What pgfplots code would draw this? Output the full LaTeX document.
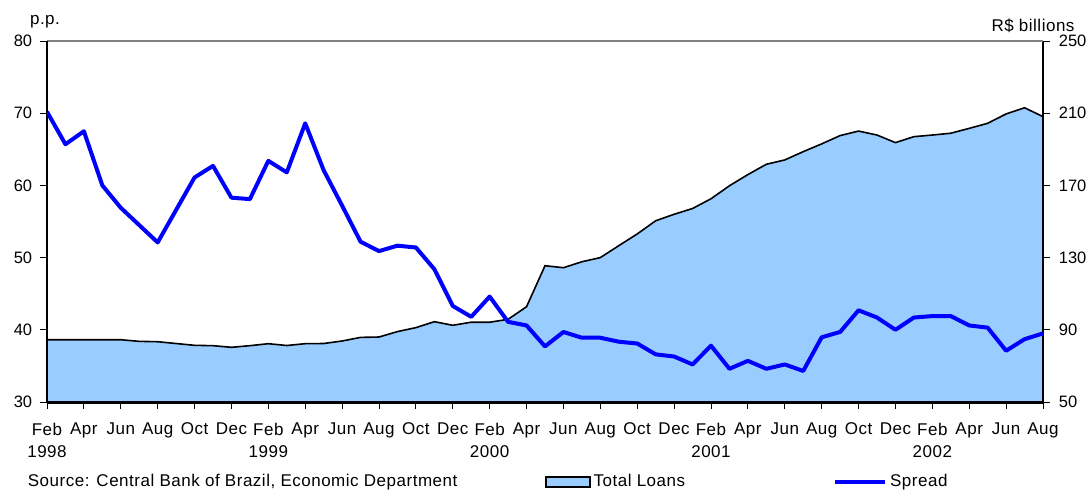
\documentclass[border=0pt]{standalone}
\usepackage{pgfplots}
\pgfplotsset{compat=1.18}
\usepackage{fontspec}
\setmainfont{Liberation Sans}[LetterSpace=3]
\newfontfamily\numfont{Liberation Sans}
\definecolor{loanfill}{HTML}{99CCFF}
\definecolor{spreadblue}{HTML}{0000FF}

\pgfplotstableread{
x y
0 84.5
1 84.5
2 84.5
3 84.5
4 84.5
5 83.6
6 83.4
7 82.4
8 81.4
9 81.2
10 80.3
11 81.2
12 82.3
13 81.3
14 82.3
15 82.4
16 83.8
17 85.8
18 86.0
19 89.0
20 91.2
21 94.5
22 92.5
23 94.2
24 94.2
25 95.8
26 102.8
27 125.5
28 124.4
29 127.7
30 130.0
31 136.6
32 143.1
33 150.4
34 154.0
35 157.2
36 162.6
37 169.8
38 176.0
39 181.7
40 184.1
41 188.7
42 193.0
43 197.6
44 200.1
45 197.9
46 193.7
47 197.0
48 197.9
49 198.9
50 201.6
51 204.4
52 209.6
53 213.0
54 208.1
}\loans

\pgfplotstableread{
x y
0 70.2
1 65.7
2 67.5
3 60.0
4 56.9
5 54.5
6 52.1
7 56.6
8 61.1
9 62.7
10 58.3
11 58.1
12 63.4
13 61.8
14 68.6
15 62.1
16 57.2
17 52.2
18 50.9
19 51.65
20 51.4
21 48.4
22 43.3
23 41.8
24 44.6
25 41.1
26 40.6
27 37.7
28 39.7
29 38.9
30 38.9
31 38.35
32 38.1
33 36.6
34 36.3
35 35.2
36 37.8
37 34.6
38 35.7
39 34.6
40 35.2
41 34.3
42 38.96
43 39.7
44 42.7
45 41.7
46 40.0
47 41.7
48 41.9
49 41.9
50 40.6
51 40.3
52 37.1
53 38.7
54 39.5
}\spread

\begin{document}
\fontsize{17}{20}\selectfont
\begin{tikzpicture}[x=1pt,y=1pt]
\useasboundingbox (0,0) rectangle (1087,490);
\pgfplotsset{common/.style={
  at={(47pt,88pt)}, anchor=south west,
  width=996pt, height=361pt, scale only axis,
  xmin=0, xmax=54,
  tick align=outside, major tick length=7pt,
  /pgf/number format/assume math mode=true,
  yticklabel style={font=\numfont\fontsize{16.5}{20}\selectfont},
  every tick/.style={black, line width=0.9pt},
}}
\begin{axis}[common,
  axis on top,
  axis y line*=right, axis x line*=bottom,
  ymin=50, ymax=250, ytick={50,90,...,250},
  yticklabel style={xshift=3pt},
  xtick={0,2,...,54},
  xticklabels={{Feb\\[2pt]1998},Apr,Jun,Aug,Oct,Dec,{Feb\\[2pt]1999},Apr,Jun,Aug,Oct,Dec,{Feb\\[2pt]2000},Apr,Jun,Aug,Oct,Dec,{Feb\\[2pt]2001},Apr,Jun,Aug,Oct,Dec,{Feb\\[2pt]2002},Apr,Jun,Aug},
  xticklabel style={font=\fontsize{17}{20}\selectfont, align=center, anchor=north, yshift=-8pt},
  x axis line style={line width=3pt},
  y axis line style={line width=1.6pt},
]
\addplot[draw=none, fill=loanfill] table[x=x,y=y] {\loans} \closedcycle;
\addplot[black, line width=1.6pt] table[x=x,y=y] {\loans};
\end{axis}
\begin{axis}[common,
  axis y line*=left, axis x line*=top,
  ymin=30, ymax=80, ytick={30,40,...,80},
  yticklabel style={xshift=-2pt},
  xtick=\empty,
  x axis line style={gray, line width=1.6pt},
  y axis line style={line width=1.6pt},
  legend columns=2,
  legend style={draw=none, fill=none, at={(545pt-47pt,-80pt)}, anchor=west, inner sep=0pt,
    font=\fontsize{17}{20}\selectfont,
    nodes={inner xsep=3pt, inner ysep=1pt},
    /tikz/every even column/.append style={column sep=145pt}},
  legend cell align=left,
]
\addlegendimage{legend image code/.code={\draw[fill=loanfill, draw=black, line width=1.4pt] (0pt,-5pt) rectangle (44pt,5pt);}}
\addlegendentry{Total Loans}
\addplot[spreadblue, line width=4pt, line join=round,
  legend image code/.code={\draw[spreadblue, line width=4pt] (0pt,0pt) -- (50pt,0pt);}] table[x=x,y=y] {\spread};
\addlegendentry{Spread}
\end{axis}
\node at (45,468) {p.p.};
\node at (1033,464.5) {R\$ billions};
\node[anchor=west] at (22,8) {Source: Central Bank of Brazil, Economic Department};
\end{tikzpicture}
\end{document}
